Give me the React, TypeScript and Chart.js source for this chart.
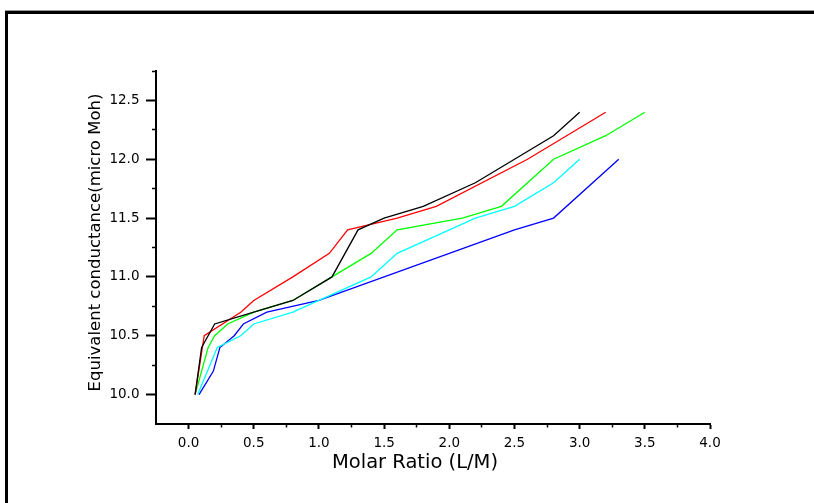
import React, { useEffect, useRef } from "react";
import { Chart, registerables } from "chart.js";

Chart.register(...registerables);

// ---- data ----
const blackX = [0.05, 0.1, 0.2, 0.5, 0.8, 1.1, 1.3, 1.5, 1.8, 2.2, 2.8, 3.0];
const blackY = [10.0, 10.4, 10.6, 10.7, 10.8, 11.0, 11.4, 11.5, 11.6, 11.8, 12.2, 12.4];

const redX = [0.05, 0.12, 0.4, 0.5, 0.8, 1.08, 1.22, 1.6, 1.9, 2.6, 3.2];
const redY = [10.0, 10.5, 10.7, 10.8, 11.0, 11.2, 11.4, 11.5, 11.6, 12.0, 12.4];

const greenX = [0.05, 0.15, 0.2, 0.3, 0.5, 0.8, 1.1, 1.4, 1.6, 2.1, 2.4, 2.8, 3.2, 3.5];
const greenY = [10.0, 10.4, 10.5, 10.6, 10.7, 10.8, 11.0, 11.2, 11.4, 11.5, 11.6, 12.0, 12.2, 12.4];

const cyanX = [0.07, 0.22, 0.4, 0.5, 0.8, 1.0, 1.4, 1.6, 2.2, 2.5, 2.8, 3.0];
const cyanY = [10.0, 10.4, 10.5, 10.6, 10.7, 10.8, 11.0, 11.2, 11.5, 11.6, 11.8, 12.0];

const blueX = [0.08, 0.19, 0.24, 0.35, 0.42, 0.6, 1.0, 2.5, 2.8, 3.3];
const blueY = [10.0, 10.2, 10.4, 10.5, 10.6, 10.7, 10.8, 11.4, 11.5, 12.0];

const xTickValues = [0, 0.5, 1.0, 1.5, 2.0, 2.5, 3.0, 3.5, 4.0];
const xTickLabels = ["0.0", "0.5", "1.0", "1.5", "2.0", "2.5", "3.0", "3.5", "4.0"];
const xMinorValues = [0.25, 0.75, 1.25, 1.75, 2.25, 2.75, 3.25, 3.75];

const yTickValues = [10.0, 10.5, 11.0, 11.5, 12.0, 12.5];
const yTickLabels = ["10.0", "10.5", "11.0", "11.5", "12.0", "12.5"];
const yMinorValues = [10.25, 10.75, 11.25, 11.75, 12.25, 12.75];

const X_MIN = -0.25;
const X_MAX = 4.0;
const Y_MIN = 9.75;
const Y_MAX = 12.75;

const X_TITLE = "Molar Ratio (L/M)";
const Y_TITLE = "Equivalent conductance(micro Moh)";

const FONT = '"DejaVu Sans", "Liberation Sans", Arial, sans-serif';

const toPoints = (xs: number[], ys: number[]) => xs.map((x, i) => ({ x, y: ys[i] }));

const titlePlugin = {
  id: "axisTitlesCustom",
  afterDraw(chart: any) {
    const ctx = chart.ctx as CanvasRenderingContext2D;
    ctx.save();
    ctx.fillStyle = "#000";
    ctx.textAlign = "center";
    ctx.textBaseline = "alphabetic";
    ctx.font = `19.5px ${FONT}`;
    ctx.fillText(X_TITLE, 415, 468);
    ctx.translate(100, 242.5);
    ctx.rotate(-Math.PI / 2);
    ctx.font = `16.5px ${FONT}`;
    ctx.fillText(Y_TITLE, 0, 0);
    ctx.restore();
  },
};

export default function App() {
  const canvasRef = useRef<HTMLCanvasElement | null>(null);

  useEffect(() => {
    const canvas = canvasRef.current;
    if (!canvas) return;

    const mk = (label: string, xs: number[], ys: number[], color: string) => ({
      label,
      data: toPoints(xs, ys),
      borderColor: color,
      backgroundColor: color,
      borderWidth: 1.3,
      pointRadius: 0,
      pointHoverRadius: 0,
      tension: 0,
      fill: false,
    });

    const tickFont = { family: FONT, size: 13.5 };

    const chart = new Chart(canvas, {
      type: "line",
      data: {
        datasets: [
          mk("black", blackX, blackY, "#000000"),
          mk("red", redX, redY, "#ff0000"),
          mk("green", greenX, greenY, "#00ff00"),
          mk("cyan", cyanX, cyanY, "#00ffff"),
          mk("blue", blueX, blueY, "#0000ff"),
        ],
      },
      options: {
        animation: false,
        responsive: false,
        devicePixelRatio: 1,
        events: [],
        layout: { padding: { left: 0, top: 71, right: 104, bottom: 0 } },
        plugins: {
          legend: { display: false },
          tooltip: { enabled: false },
          title: { display: false },
        },
        scales: {
          x: {
            type: "linear",
            position: "bottom",
            weight: 1,
            min: X_MIN,
            max: X_MAX,
            afterBuildTicks: (s: any) => {
              s.ticks = xTickValues.map((value) => ({ value }));
            },
            afterFit: (s: any) => {
              s.height = 79;
            },
            ticks: {
              autoSkip: false,
              maxRotation: 0,
              padding: 6,
              color: "#000",
              font: tickFont,
              callback: (_v: any, i: number) => xTickLabels[i],
            },
            grid: {
              display: true,
              drawOnChartArea: false,
              drawTicks: true,
              tickLength: 5,
              tickWidth: 2,
              tickColor: "#000",
            },
            border: { display: true, width: 2, color: "#000" },
          },
          xMinor: {
            type: "linear",
            position: "bottom",
            weight: 0,
            display: true,
            min: X_MIN,
            max: X_MAX,
            afterBuildTicks: (s: any) => {
              s.ticks = xMinorValues.map((value) => ({ value }));
            },
            afterFit: (s: any) => {
              s.height = 0;
            },
            ticks: { display: false, autoSkip: false },
            grid: {
              display: true,
              drawOnChartArea: false,
              drawTicks: true,
              tickLength: 3.5,
              tickWidth: 1.5,
              tickColor: "#000",
            },
            border: { display: false },
          },
          y: {
            type: "linear",
            position: "left",
            weight: 1,
            min: Y_MIN,
            max: Y_MAX,
            afterBuildTicks: (s: any) => {
              s.ticks = yTickValues.map((value) => ({ value }));
            },
            afterFit: (s: any) => {
              s.width = 156;
            },
            ticks: {
              autoSkip: false,
              padding: 6.5,
              color: "#000",
              font: tickFont,
              callback: (_v: any, i: number) => yTickLabels[i],
            },
            grid: {
              display: true,
              drawOnChartArea: false,
              drawTicks: true,
              tickLength: 10,
              tickWidth: 2,
              tickColor: "#000",
            },
            border: { display: true, width: 2, color: "#000" },
          },
          yMinor: {
            type: "linear",
            position: "left",
            weight: 0,
            display: true,
            min: Y_MIN,
            max: Y_MAX,
            afterBuildTicks: (s: any) => {
              s.ticks = yMinorValues.map((value) => ({ value }));
            },
            afterFit: (s: any) => {
              s.width = 0;
            },
            ticks: { display: false, autoSkip: false },
            grid: {
              display: true,
              drawOnChartArea: false,
              drawTicks: true,
              tickLength: 4,
              tickWidth: 1.5,
              tickColor: "#000",
            },
            border: { display: false },
          },
        },
      } as any,
      plugins: [titlePlugin],
    });

    return () => {
      chart.destroy();
    };
  }, []);

  return (
    <div style={{ position: "absolute", left: 0, top: 0, width: 814, height: 503, overflow: "hidden", background: "#fff" }}>
      <canvas
        ref={canvasRef}
        width={814}
        height={503}
        style={{ position: "absolute", left: 0, top: 0, width: 814, height: 503 }}
      />
      <div
        style={{
          position: "absolute",
          left: 5,
          top: 11,
          width: 806,
          height: 489,
          borderLeft: "3px solid #000",
          borderTop: "3px solid #000",
          boxShadow: "0 -1px 0 #999",
          pointerEvents: "none",
        }}
      />
    </div>
  );
}
